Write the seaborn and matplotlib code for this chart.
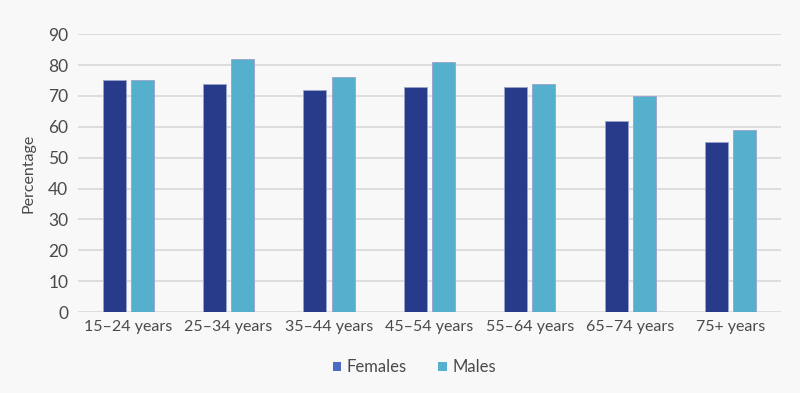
import numpy as np
import pandas as pd
import matplotlib
matplotlib.use("Agg")
import matplotlib.pyplot as plt
from matplotlib.patches import Patch
import seaborn as sns

# Data
AGE_GROUPS = ['15–24 years', '25–34 years', '35–44 years', '45–54 years',
              '55–64 years', '65–74 years', '75+ years']
FEMALES = [75, 74, 72, 73, 73, 62, 55]
MALES = [75, 82, 76, 81, 74, 70, 59]
SERIES = ['Females', 'Males']
Y_TICKS = [0, 10, 20, 30, 40, 50, 60, 70, 80, 90]

BG = '#f8f8f8'
TEXT = '#4a4a4a'
BAR_COLORS = {'Females': '#283a8a', 'Males': '#55b0ce'}
LEGEND_COLORS = {'Females': '#4a6cc2', 'Males': '#55b0ce'}

df = pd.DataFrame({
    'age': AGE_GROUPS * 2,
    'sex': ['Females'] * len(AGE_GROUPS) + ['Males'] * len(AGE_GROUPS),
    'value': FEMALES + MALES,
})

sns.set_theme(style='white')
plt.rcParams['font.family'] = ['Lato', 'DejaVu Sans']

fig = plt.figure(figsize=(8, 3.93), dpi=100, facecolor=BG)
ax = fig.add_axes([0.0975, 0.206, 0.8785, 0.707])
ax.set_facecolor(BG)

sns.barplot(data=df, x='age', y='value', hue='sex', hue_order=SERIES,
            palette=BAR_COLORS, saturation=1, width=0.56, gap=0.18, ax=ax,
            edgecolor='#9aa3c8', linewidth=0.6, legend=False)

ax.set_ylim(0, 90)
ax.set_xlim(-0.5, 6.5)
ax.set_yticks(Y_TICKS)
ax.yaxis.grid(True, color='#dddddd', linewidth=1.4)
ax.set_axisbelow(True)
for s in ax.spines.values():
    s.set_visible(False)
ax.tick_params(axis='y', length=0, labelsize=12.5, colors=TEXT, pad=7)
ax.tick_params(axis='x', length=0, labelsize=11.5, colors=TEXT, pad=6)
ax.set_xlabel('')
ax.set_ylabel('Percentage', fontsize=11.5, color=TEXT, labelpad=9)

handles = [Patch(facecolor=LEGEND_COLORS[s], edgecolor='none', label=s) for s in SERIES]
fig.legend(handles=handles, loc='center', bbox_to_anchor=(0.518, 0.065), ncol=2,
           frameon=False, fontsize=12, handlelength=0.5, handleheight=0.5,
           handletextpad=0.35, columnspacing=1.9, labelcolor=TEXT)

fig.savefig('out.png', dpi=100, facecolor=BG)
